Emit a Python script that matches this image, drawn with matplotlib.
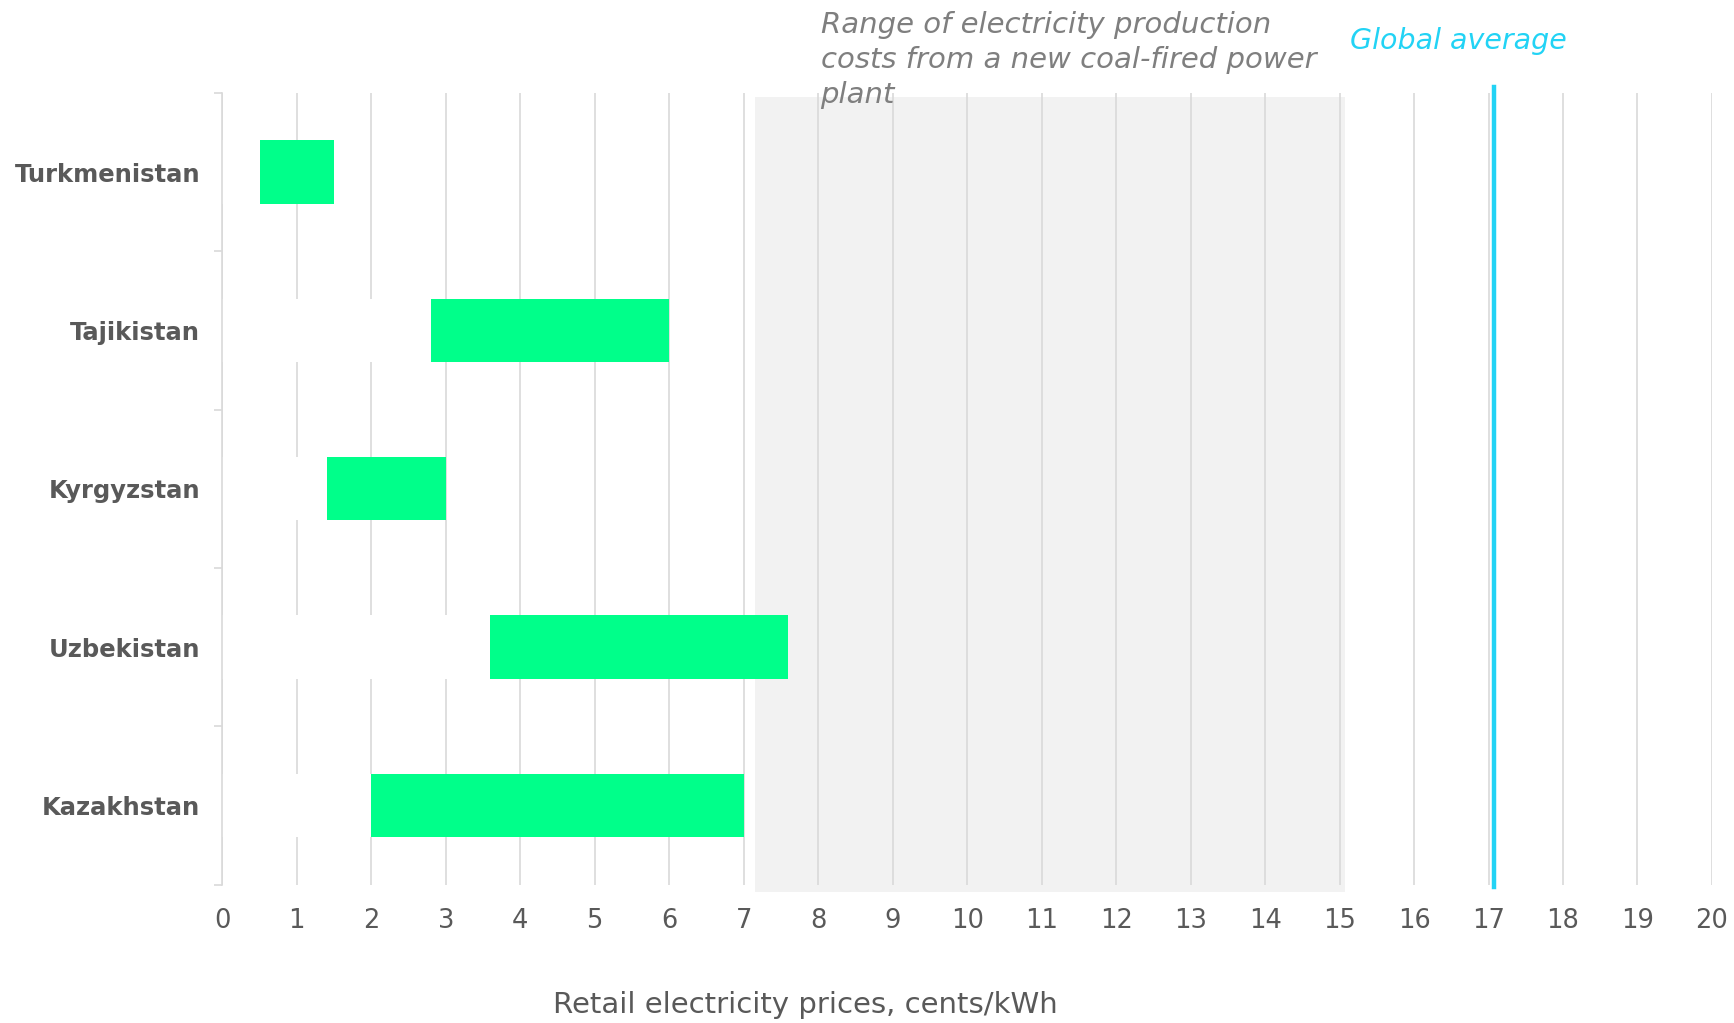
import matplotlib
matplotlib.use("Agg")
import matplotlib.pyplot as plt
from matplotlib.patches import Rectangle
import matplotlib.transforms as mtransforms

# data, bottom to top
countries = ["Kazakhstan", "Uzbekistan", "Kyrgyzstan", "Tajikistan", "Turkmenistan"]
price_low = [2.0, 3.6, 1.4, 2.8, 0.5]
price_high = [7.0, 7.6, 3.0, 6.0, 1.5]
coal_range = [7.15, 15.07]
global_average = 17.08
x_ticks = list(range(0, 21))

GREEN = "#00FF8A"
GRID = "#D9D9D9"
TEXT = "#595959"
CYAN = "#22D3F5"


def main():
    fig = plt.figure(figsize=(17.34, 10.23), dpi=100)
    ax = fig.add_axes([0.1282, 0.1352, 0.8591, 0.7740])

    ypos = list(range(len(countries)))
    widths = [h - l for l, h in zip(price_low, price_high)]

    # white base hides the gridlines left of each bar
    ax.barh(ypos, price_low, height=0.4, color="white", zorder=2)
    ax.barh(ypos, widths, left=price_low, height=0.4, color=GREEN, zorder=3)

    trans = mtransforms.blended_transform_factory(ax.transData, ax.transAxes)
    band = Rectangle((coal_range[0], -0.0098), coal_range[1] - coal_range[0], 1.0042,
                     transform=trans, facecolor="#F2F2F2", edgecolor="none",
                     zorder=0, clip_on=False)
    ax.add_patch(band)

    ax.axvline(global_average, ymin=-0.003, ymax=1.008, color=CYAN, lw=3.2,
               zorder=4, clip_on=False)

    ax.set_xlim(0, 20)
    ax.set_ylim(-0.5, len(countries) - 0.5)
    ax.set_xticks(x_ticks)
    ax.set_yticks(ypos)
    ax.set_yticklabels(countries, fontsize=17.5, fontweight="bold", color=TEXT)
    ax.set_yticks([i - 0.5 for i in range(len(countries) + 1)], minor=True)

    ax.tick_params(axis="x", length=0, pad=17, labelsize=18.5, labelcolor=TEXT)
    ax.tick_params(axis="y", which="major", length=0, pad=16)
    ax.tick_params(axis="y", which="minor", length=6, width=1.2, color=GRID)

    ax.grid(axis="x", color=GRID, lw=1.2, zorder=1)
    ax.set_axisbelow(True)
    for s in ["top", "right", "bottom"]:
        ax.spines[s].set_visible(False)
    ax.spines["left"].set_color(GRID)
    ax.spines["left"].set_linewidth(1.2)

    fig.text(0.4732, 0.9412,
             "Range of electricity production\ncosts from a new coal-fired power\nplant",
             fontsize=21, style="italic", color="#7F7F7F", ha="left", va="center",
             linespacing=1.33)
    fig.text(0.8409, 0.96, "Global average", fontsize=20.5, style="italic",
             color=CYAN, ha="center", va="center")
    fig.text(0.4643, 0.018, "Retail electricity prices, cents/kWh", fontsize=21,
             color=TEXT, ha="center", va="center")

    fig.savefig("out.png", dpi=100)


if __name__ == "__main__":
    main()
